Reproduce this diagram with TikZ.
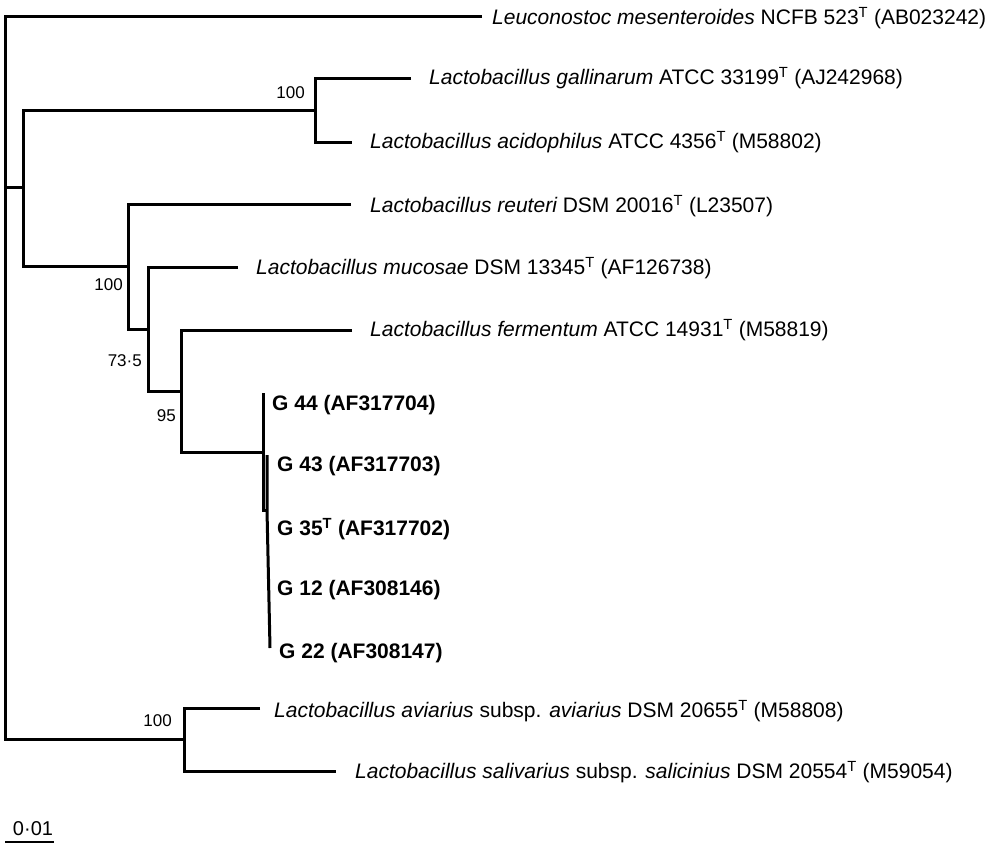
\documentclass[tikz,border=0pt]{standalone}
\usepackage{fontspec}
\setmainfont{Liberation Sans}
\begin{document}
\begin{tikzpicture}[x=1pt,y=-1pt,
  br/.style={line width=3pt, line join=miter},
  leaf/.style={anchor=west, inner sep=0pt, font=\fontsize{21}{24}\selectfont},
  gleaf/.style={anchor=west, inner sep=0pt, font=\fontsize{21}{24}\selectfont\bfseries},
  boot/.style={anchor=east, inner sep=0pt, font=\fontsize{17}{19}\selectfont}]
\useasboundingbox (0,0) rectangle (994,849);
% internal nodes
\coordinate (R) at (5,187);
\coordinate (A) at (23,187);
\coordinate (B) at (315,110);
\coordinate (C) at (128,266);
\coordinate (D) at (148,329);
\coordinate (E) at (181,391);
\coordinate (F) at (263,452);
\coordinate (G) at (267,510);
\coordinate (H) at (184,739);
% tips
\coordinate (tLeu) at (482,16);
\coordinate (tGal) at (411,78);
\coordinate (tAci) at (352,142);
\coordinate (tReu) at (351,204);
\coordinate (tMuc) at (238,267);
\coordinate (tFer) at (352,330);
\coordinate (tG44) at (263,393);
\coordinate (tG43) at (267,455);
\coordinate (tG22) at (270,648);
\coordinate (tAvi) at (260,708);
\coordinate (tSal) at (336,771);
% branches
\draw[br] (tLeu) -| (R) |- (H);
\draw[br] (R) -- (A);
\draw[br] (tGal) -| (B) |- (tAci);
\draw[br] (B) -| (A) |- (C);
\draw[br] (tReu) -| (C) |- (D);
\draw[br] (tMuc) -| (D) |- (E);
\draw[br] (tFer) -| (E) |- (F);
\draw[br] (tG44) -- (F |- G) -- (G);
\draw[br] (tG43) -- (G) -- (tG22);
\draw[br] (tAvi) -| (H) |- (tSal);
% labels
\node[leaf] (lLeu) at (492,18) {\itshape Leuconostoc mesenteroides\upshape{} NCFB 523\textsuperscript{T} (AB023242)};
\node[leaf] (lGal) at (429,78) {\itshape Lactobacillus gallinarum\upshape{} ATCC 33199\textsuperscript{T} (AJ242968)};
\node[leaf] (lAci) at (370,142) {\itshape Lactobacillus acidophilus\upshape{} ATCC 4356\textsuperscript{T} (M58802)};
\node[leaf] (lReu) at (370,206) {\itshape Lactobacillus reuteri\upshape{} DSM 20016\textsuperscript{T} (L23507)};
\node[leaf] (lMuc) at (256,268) {\itshape Lactobacillus mucosae\upshape{} DSM 13345\textsuperscript{T} (AF126738)};
\node[leaf] (lFer) at (370,330) {\itshape Lactobacillus fermentum\upshape{} ATCC 14931\textsuperscript{T} (M58819)};
\node[gleaf] (lG44) at (272,405) {G 44 (AF317704)};
\node[gleaf] (lG43) at (277,466) {G 43 (AF317703)};
\node[gleaf] (lG35) at (277,529) {G 35\textsuperscript{T} (AF317702)};
\node[gleaf] (lG12) at (277,590) {G 12 (AF308146)};
\node[gleaf] (lG22) at (279,653) {G 22 (AF308147)};
\node[leaf] (lAvi) at (274,711) {\itshape Lactobacillus aviarius\upshape{} subsp. \itshape aviarius\upshape{} DSM 20655\textsuperscript{T} (M58808)};
\node[leaf] (lSal) at (355,772) {\itshape Lactobacillus salivarius\upshape{} subsp. \itshape salicinius\upshape{} DSM 20554\textsuperscript{T} (M59054)};
% bootstrap values
\node[boot] (bB) at (305,93) {100};
\node[boot] (bC) at (123,285) {100};
\node[boot] (bD) at (142,361) {73·5};
\node[boot] (bE) at (176,416) {95};
\node[boot] (bH) at (172,721) {100};
% scale bar
\coordinate (s0) at (5,842);
\coordinate (s1) at (54,842);
\draw[line width=2pt] (s0) -- (s1);
\node[inner sep=0pt, font=\fontsize{20}{23}\selectfont] (sl) at (33,829) {0·01};
\end{tikzpicture}
\end{document}
